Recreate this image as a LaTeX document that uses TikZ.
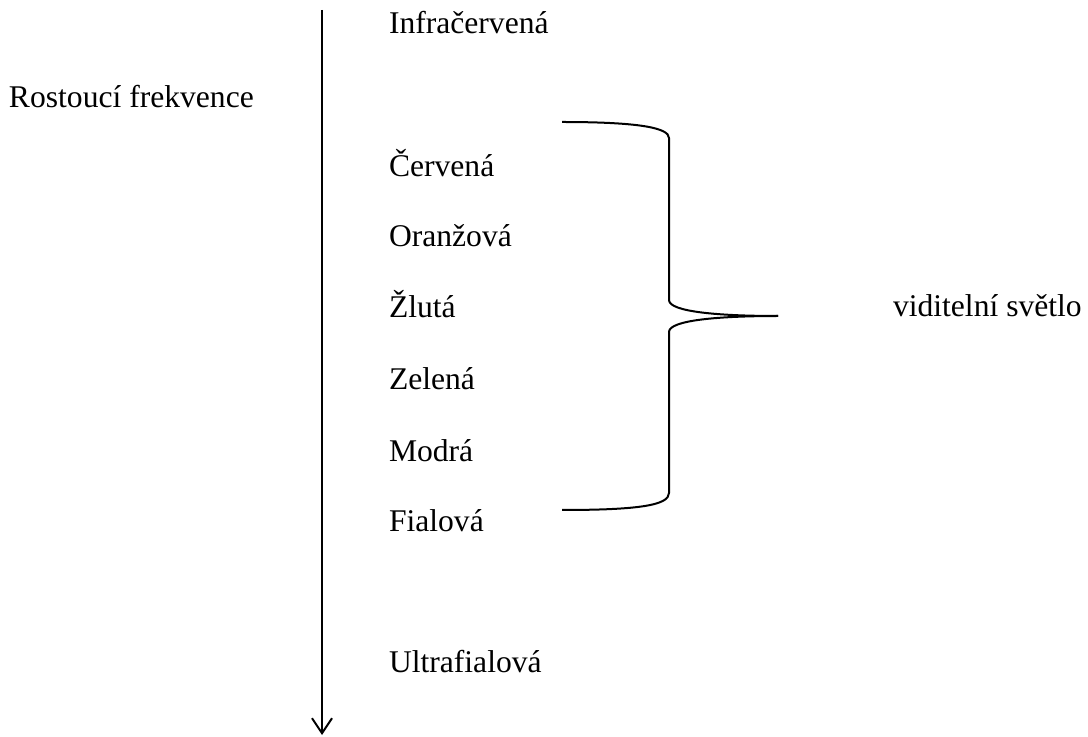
\documentclass[tikz,border=0pt]{standalone}
\usepackage{fontspec}
\setmainfont{Liberation Serif}
\usetikzlibrary{arrows.meta}

\begin{document}
\begin{tikzpicture}[x=0.5pt,y=-0.5pt,line width=1pt,
    colour/.style={anchor=base west,inner sep=0pt},
    font=\fontsize{15.8}{19}\selectfont]
  \def\Ax{322}   % x of the frequency axis
  \def\Tx{388}   % left edge of the colour names
  \def\Bx{669}   % x of the brace spine
  % page
  \useasboundingbox (0,0) rectangle (1088,737);
  % axis
  \coordinate (atop) at (\Ax,10);
  \coordinate (abot) at (\Ax,735);
  \draw[-{Straight Barb[length=7.5pt,width=10pt]}] (atop) -- (abot);
  \node[colour] (freq) at (8,108) {Rostoucí frekvence};
  % colour names
  \node[colour] (infra)  at (\Tx,34)  {Infračervená};
  \node[colour] (red)    at (\Tx,177) {Červená};
  \node[colour] (orange) at (\Tx,247) {Oranžová};
  \node[colour] (yellow) at (\Tx,318) {Žlutá};
  \node[colour] (green)  at (\Tx,390) {Zelená};
  \node[colour] (blue)   at (\Tx,462) {Modrá};
  \node[colour] (violet) at (\Tx,532) {Fialová};
  \node[colour] (ultra)  at (\Tx,673) {Ultrafialová};
  % brace
  \coordinate (btop) at (562,122);
  \coordinate (bbot) at (562,510);
  \coordinate (btip) at (778,316);
  \draw (btop) .. controls (640,122) and (\Bx,128) .. (\Bx,138) -- (\Bx,300)
        .. controls (\Bx,312) and (720,316) .. (btip);
  \draw (btip) .. controls (720,316) and (\Bx,320) .. (\Bx,332) -- (\Bx,493)
        .. controls (\Bx,505) and (640,510) .. (bbot);
  \node[colour] (visible) at (892,317) {viditelní světlo};
\end{tikzpicture}
\end{document}
